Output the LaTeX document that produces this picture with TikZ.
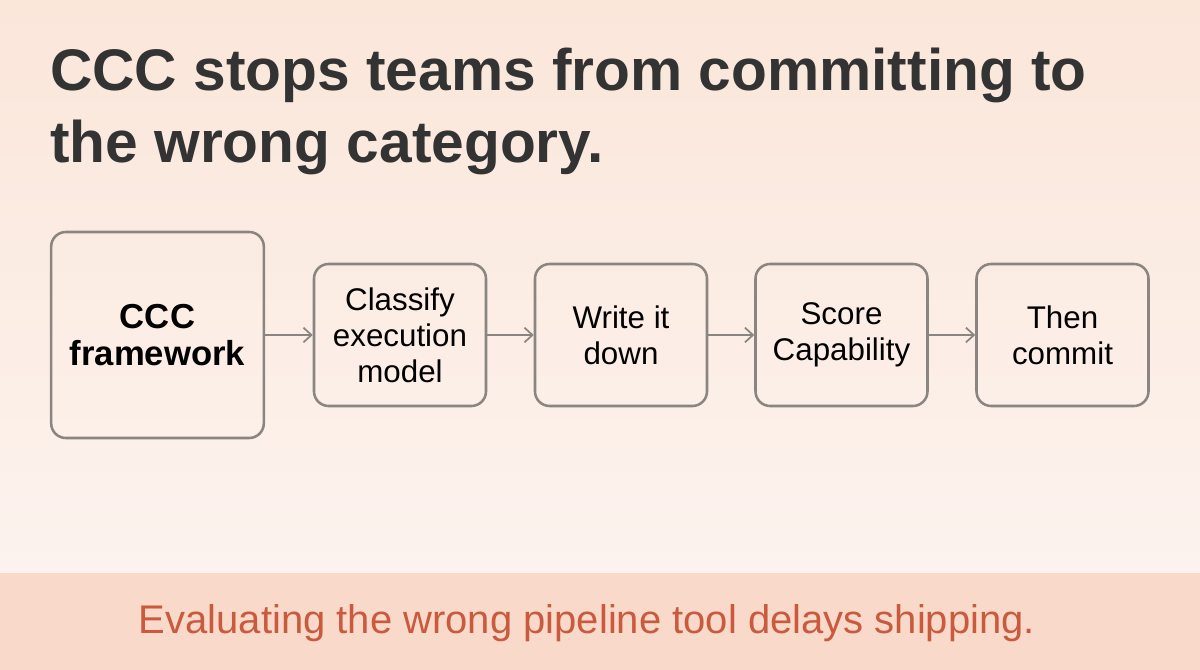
\documentclass[tikz,border=0pt]{standalone}
\usepackage{fontspec}
\setmainfont{Liberation Sans}
\usetikzlibrary{arrows.meta}
\definecolor{bgtop}{HTML}{FBE6DA}
\definecolor{bgbot}{HTML}{FCF3EE}
\definecolor{band}{HTML}{F9DACA}
\definecolor{foot}{HTML}{C95A3E}
\definecolor{ink}{HTML}{333333}
\definecolor{edge}{HTML}{8A8580}
\begin{document}
\begin{tikzpicture}[x=0.75pt,y=-0.75pt,
  box/.style={draw=edge,line width=1.9pt,rounded corners=11pt,align=center,text=black,inner sep=0pt},
  small/.style={box,minimum width=129pt,minimum height=106.5pt,font=\fontsize{23.5}{27}\selectfont},
  arr/.style={draw=edge,line width=1.3pt,-{Straight Barb[length=6pt,width=11pt]}}]
\shade[top color=bgtop,bottom color=bgbot] (0,0) rectangle (1200,573);
\fill[band] (0,573) rectangle (1200,670);
\useasboundingbox (0,0) rectangle (1200,670);
\node[anchor=north west,text=ink,font=\bfseries\fontsize{44}{54}\selectfont,align=left,inner sep=0pt] (title) at (50,48) {CCC stops teams from committing to\\the wrong category.};
\node[box,minimum width=159.5pt,minimum height=154.5pt,font=\bfseries\fontsize{26}{28}\selectfont] (a) at (157.5,335) {CCC\\framework};
\node[small] (b) at (400,335) {Classify\\execution\\model};
\node[small] (c) at (621,335) {Write it\\down};
\node[small] (d) at (841.5,335) {Score\\Capability};
\node[small] (e) at (1062.5,335) {Then\\commit};
\draw[arr] (a) -- (b);
\draw[arr] (b) -- (c);
\draw[arr] (c) -- (d);
\draw[arr] (d) -- (e);
\node[text=foot,font=\fontsize{30}{34}\selectfont] (f) at (587,623) {Evaluating the wrong pipeline tool delays shipping.};
\end{tikzpicture}
\end{document}
